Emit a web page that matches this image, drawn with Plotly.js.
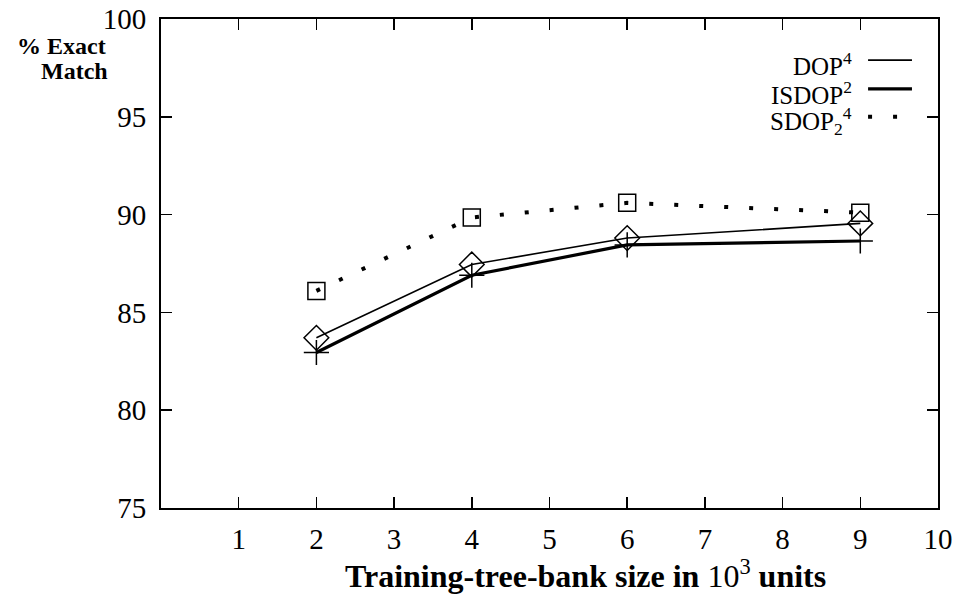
<!DOCTYPE html>
<html>
<head>
<meta charset="utf-8">
<script src="https://cdn.plot.ly/plotly-3.0.1.min.js"></script>
<style>
  html, body { margin: 0; padding: 0; background: #fff; }
  #chart { width: 956px; height: 611px; }
</style>
</head>
<body>
<div id="chart"></div>
<script>
// Training-set sizes (thousands of trees)
const sizes = [2, 4, 6, 9];

// Exact-match accuracy (%) per model
const dop4   = [83.7, 87.45, 88.8, 89.55];
const isdop2 = [82.95, 86.9, 88.45, 88.65];
const sdop24 = [86.1, 89.85, 90.6, 90.1];

// Axis ticks
const xTicks = [1, 2, 3, 4, 5, 6, 7, 8, 9, 10];
const yTicks = [75, 80, 85, 90, 95, 100];

// Legend labels
const seriesNames = ['DOP<sup>4</sup>', 'ISDOP<sup>2</sup>', 'SDOP<sub>2</sub><sup>4</sup>'];

const serif = 'Liberation Serif, Times New Roman, serif';

const traces = [
  {
    x: sizes, y: dop4, type: 'scatter', mode: 'lines+markers', name: seriesNames[0],
    line: { color: '#000', width: 1.6 },
    marker: { symbol: 'diamond-open', size: 19, color: '#000', line: { width: 1.5, color: '#000' } },
    showlegend: false
  },
  {
    x: sizes, y: isdop2, type: 'scatter', mode: 'lines+markers', name: seriesNames[1],
    line: { color: '#000', width: 3.2 },
    marker: { symbol: 'cross-thin-open', size: 18, color: '#000', line: { width: 1.5, color: '#222' } },
    showlegend: false
  },
  {
    x: sizes, y: sdop24, type: 'scatter', mode: 'lines+markers', name: seriesNames[2],
    line: { color: '#000', width: 4, dash: '4px,21px' },
    marker: { symbol: 'square-open', size: 17, color: '#000', line: { width: 1.5, color: '#222' } },
    showlegend: false
  }
];

// Hand-laid key in the upper-right corner: label to the left of its line sample
const keyY = [0.916, 0.857, 0.800];
const keyStyles = [
  { width: 1.6, dash: 'solid' },
  { width: 3.2, dash: 'solid' },
  { width: 4, dash: '4px,21px' }
];
const shapes = keyY.map((y, i) => ({
  type: 'line', xref: 'paper', yref: 'paper',
  x0: 0.910, x1: 0.9665, y0: y, y1: y,
  line: { color: '#000', width: keyStyles[i].width, dash: keyStyles[i].dash }
}));
const annotations = keyY.map((y, i) => ({
  xref: 'paper', yref: 'paper', x: 0.892, y: y - 0.008,
  xanchor: 'right', yanchor: 'middle', showarrow: false,
  text: seriesNames[i],
  font: { family: serif, size: 25, color: '#000' }
}));

// Y-axis caption, two lines set close together
annotations.push({
  xref: 'paper', yref: 'paper', x: -0.068, y: 0.9448,
  xanchor: 'right', yanchor: 'middle', showarrow: false,
  text: '<b>% Exact</b>',
  font: { family: serif, size: 24, color: '#000' }
});
annotations.push({
  xref: 'paper', yref: 'paper', x: -0.065, y: 0.8937,
  xanchor: 'right', yanchor: 'middle', showarrow: false,
  text: '<b>Match</b>',
  font: { family: serif, size: 24, color: '#000' }
});
annotations.push({
  xref: 'paper', yref: 'paper', x: 0.5457, y: -0.135,
  xanchor: 'center', yanchor: 'middle', showarrow: false,
  text: '<b>Training-tree-bank size in </b>10<sup>3</sup><b> units</b>',
  font: { family: serif, size: 32, color: '#000' }
});

const layout = {
  width: 956, height: 611,
  margin: { l: 161, r: 18, t: 19, b: 103, pad: 0 },
  paper_bgcolor: '#fff', plot_bgcolor: '#fff',
  showlegend: false,
  font: { family: serif, color: '#000' },
  xaxis: {
    range: [0, 10], tickvals: xTicks, ticktext: xTicks.map(String),
    ticks: 'inside', ticklen: 11, tickwidth: 1.5, tickcolor: '#000',
    showline: true, linecolor: '#000', linewidth: 2, mirror: 'allticks',
    showgrid: false, zeroline: false, ticklabelstandoff: 4,
    tickfont: { family: serif, size: 29, color: '#000' }
  },
  yaxis: {
    range: [75, 100], tickvals: yTicks, ticktext: yTicks.map(String),
    ticks: 'inside', ticklen: 11, tickwidth: 1.5, tickcolor: '#000',
    showline: true, linecolor: '#000', linewidth: 2, mirror: 'allticks',
    showgrid: false, zeroline: false, ticklabelstandoff: 7,
    tickfont: { family: serif, size: 29, color: '#000' }
  },
  shapes: shapes,
  annotations: annotations
};

Plotly.newPlot('chart', traces, layout, { displayModeBar: false, staticPlot: true });
</script>
</body>
</html>
